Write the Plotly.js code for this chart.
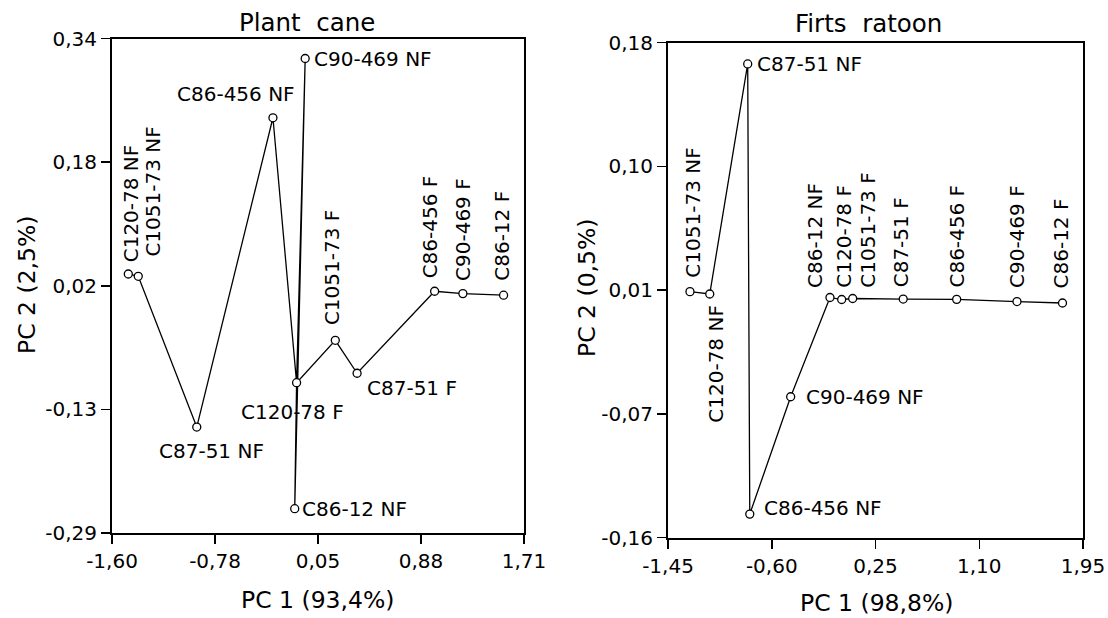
<!DOCTYPE html>
<html>
<head>
<meta charset="utf-8">
<script src="https://cdn.plot.ly/plotly-3.0.1.min.js"></script>
<style>
  html, body { margin: 0; padding: 0; background: #fff; }
  #chart { width: 1108px; height: 618px; }
</style>
</head>
<body>
<div id="chart"></div>
<script>
// ---------------- DATA ----------------
// Plant cane (left panel)
const plantLabels = ["C120-78 NF", "C1051-73 NF", "C87-51 NF", "C86-456 NF", "C90-469 NF", "C120-78 F",
                     "C86-12 NF", "C1051-73 F", "C87-51 F", "C86-456 F", "C90-469 F", "C86-12 F"];
const plantPC1 = [-1.469, -1.389, -0.919, -0.307, -0.048, -0.117, -0.132, 0.194, 0.369, 0.992, 1.219, 1.546];
const plantPC2 = [0.040, 0.037, -0.155, 0.239, 0.3145, -0.0985, -0.259, -0.0445, -0.0865, 0.018, 0.015, 0.013];
const plantPath = ["C120-78 NF", "C1051-73 NF", "C87-51 NF", "C86-456 NF", "C120-78 F", "C90-469 NF",
                   "C86-12 NF", "C120-78 F", "C1051-73 F", "C87-51 F", "C86-456 F", "C90-469 F", "C86-12 F"];
const plantXTicks = ["-1,60", "-0,78", "0,05", "0,88", "1,71"];
const plantYTicks = ["-0,29", "-0,13", "0,02", "0,18", "0,34"];

// First ratoon (right panel)
const ratoonLabels = ["C1051-73 NF", "C120-78 NF", "C87-51 NF", "C86-456 NF", "C90-469 NF", "C86-12 NF",
                      "C120-78 F", "C1051-73 F", "C87-51 F", "C86-456 F", "C90-469 F", "C86-12 F"];
const ratoonPC1 = [-1.270, -1.108, -0.797, -0.780, -0.445, -0.123, -0.027, 0.063, 0.477, 0.915, 1.409, 1.782];
const ratoonPC2 = [0.009, 0.0074, 0.1654, -0.1438, -0.0632, 0.005, 0.0036, 0.0043, 0.0039, 0.0037, 0.0022, 0.0012];
const ratoonPath = ratoonLabels.slice();
const ratoonXTicks = ["-1,45", "-0,60", "0,25", "1,10", "1,95"];
const ratoonYTicks = ["-0,16", "-0,07", "0,01", "0,10", "0,18"];

const titles = ["Plant\u00a0 cane", "Firts\u00a0 ratoon"];
const xTitles = ["PC 1 (93,4%)", "PC 1 (98,8%)"];
const yTitles = ["PC 2 (2,5%)", "PC 2 (0,5%)"];

// ---------------- STYLE / PLACEMENT ----------------
const FONT = "DejaVu Sans, Verdana, sans-serif";
const plantRange = { x: [-1.6, 1.71], y: [-0.29, 0.34] };
const ratoonRange = { x: [-1.45, 1.95], y: [-0.16, 0.18] };

// label placement: angle, xanchor, yanchor, dx (px right), dy (px up)
const plantPlace = {
  "C120-78 NF": [-90, "center", "bottom", 3, 11],
  "C1051-73 NF": [-90, "center", "bottom", 15, 19],
  "C87-51 NF": [0, "center", "middle", 15, -24],
  "C86-456 NF": [0, "center", "middle", -37, 24],
  "C90-469 NF": [0, "left", "middle", 8, 0],
  "C120-78 F": [0, "center", "middle", -4, -29],
  "C86-12 NF": [0, "left", "middle", 6, 0],
  "C1051-73 F": [-90, "center", "bottom", -4, 14],
  "C87-51 F": [0, "left", "middle", 9, -15],
  "C86-456 F": [-90, "center", "bottom", -5, 12],
  "C90-469 F": [-90, "center", "bottom", 0, 12],
  "C86-12 F": [-90, "center", "bottom", -1, 13]
};
const ratoonPlace = {
  "C1051-73 NF": [-90, "center", "bottom", 3, 13],
  "C120-78 NF": [-90, "center", "top", 6, -10],
  "C87-51 NF": [0, "left", "middle", 8, 0],
  "C86-456 NF": [0, "left", "middle", 13, 6],
  "C90-469 NF": [0, "left", "middle", 14, 0],
  "C86-12 NF": [-90, "center", "bottom", -15, 9],
  "C120-78 F": [-90, "center", "bottom", 2, 11],
  "C1051-73 F": [-90, "center", "bottom", 15, 10],
  "C87-51 F": [-90, "center", "bottom", -2, 11],
  "C86-456 F": [-90, "center", "bottom", 0, 11],
  "C90-469 F": [-90, "center", "bottom", 0, 13],
  "C86-12 F": [-90, "center", "bottom", -1, 14]
};

// ---------------- BUILD ----------------
function ticksFor(range) {
  const v = [];
  for (let i = 0; i < 5; i++) v.push(range[0] + i * (range[1] - range[0]) / 4);
  return v;
}
function pathXY(path, labels, xs, ys) {
  const x = [], y = [];
  path.forEach(n => { const i = labels.indexOf(n); x.push(xs[i]); y.push(ys[i]); });
  return { x, y };
}

const lineStyle = { color: "#000", width: 1.3 };
const markerStyle = { symbol: "circle", size: 8, color: "#fff", line: { color: "#000", width: 1.3 } };

const pPath = pathXY(plantPath, plantLabels, plantPC1, plantPC2);
const rPath = pathXY(ratoonPath, ratoonLabels, ratoonPC1, ratoonPC2);

const traces = [
  { x: pPath.x, y: pPath.y, xaxis: "x", yaxis: "y", mode: "lines", line: lineStyle, hoverinfo: "skip", showlegend: false, cliponaxis: false },
  { x: plantPC1, y: plantPC2, text: plantLabels, xaxis: "x", yaxis: "y", mode: "markers", marker: markerStyle, showlegend: false, cliponaxis: false },
  { x: rPath.x, y: rPath.y, xaxis: "x2", yaxis: "y2", mode: "lines", line: lineStyle, hoverinfo: "skip", showlegend: false, cliponaxis: false },
  { x: ratoonPC1, y: ratoonPC2, text: ratoonLabels, xaxis: "x2", yaxis: "y2", mode: "markers", marker: markerStyle, showlegend: false, cliponaxis: false }
];

const annotations = [];
function addLabels(labels, xs, ys, place, xref, yref) {
  labels.forEach((n, i) => {
    const p = place[n];
    annotations.push({
      x: xs[i], y: ys[i], xref, yref, text: n, showarrow: false,
      textangle: p[0], xanchor: p[1], yanchor: p[2], xshift: p[3], yshift: p[4],
      font: { family: FONT, size: 20, color: "#000" }, borderpad: 0
    });
  });
}
addLabels(plantLabels, plantPC1, plantPC2, plantPlace, "x", "y");
addLabels(ratoonLabels, ratoonPC1, ratoonPC2, ratoonPlace, "x2", "y2");

const W = 1108, H = 618;
const dom = {
  x1: [112 / W, 524 / W], y1: [(H - 533) / H, (H - 38.5) / H],
  x2: [668 / W, 1083 / W], y2: [(H - 537.7) / H, (H - 42.7) / H]
};
// panel titles and axis titles
const pText = (text, x, y, angle, size) => ({
  text, x: x / W, y: 1 - y / H, xref: "paper", yref: "paper", showarrow: false,
  xanchor: "center", yanchor: "middle", textangle: angle,
  font: { family: FONT, size, color: "#000" }
});
annotations.push(pText(titles[0], 307, 22, 0, 24.5));
annotations.push(pText(titles[1], 868, 24, 0, 24.5));
annotations.push(pText(xTitles[0], 317, 600, 0, 23.5));
annotations.push(pText(xTitles[1], 876, 603, 0, 23.5));
annotations.push(pText(yTitles[0], 27, 285, -90, 23.5));
annotations.push(pText(yTitles[1], 587, 288, -90, 23.5));

const axisCommon = {
  showgrid: false, zeroline: false, showline: true, linecolor: "#000", linewidth: 2,
  mirror: true, ticks: "outside", ticklen: 9, tickwidth: 1.5, tickcolor: "#000",
  tickmode: "array", tickfont: { family: FONT, size: 20, color: "#000" },
  fixedrange: true, automargin: false
};

const layout = {
  width: W, height: H,
  margin: { l: 0, r: 0, t: 0, b: 0 },
  paper_bgcolor: "#fff", plot_bgcolor: "#fff",
  showlegend: false,
  xaxis: Object.assign({}, axisCommon, { domain: dom.x1, anchor: "y", range: plantRange.x,
    tickvals: ticksFor(plantRange.x), ticktext: plantXTicks }),
  yaxis: Object.assign({}, axisCommon, { domain: dom.y1, anchor: "x", range: plantRange.y,
    tickvals: ticksFor(plantRange.y), ticktext: plantYTicks }),
  xaxis2: Object.assign({}, axisCommon, { domain: dom.x2, anchor: "y2", range: ratoonRange.x,
    tickvals: ticksFor(ratoonRange.x), ticktext: ratoonXTicks }),
  yaxis2: Object.assign({}, axisCommon, { domain: dom.y2, anchor: "x2", range: ratoonRange.y,
    tickvals: ticksFor(ratoonRange.y), ticktext: ratoonYTicks }),
  annotations
};

Plotly.newPlot("chart", traces, layout, { displayModeBar: false, staticPlot: true });
</script>
</body>
</html>
